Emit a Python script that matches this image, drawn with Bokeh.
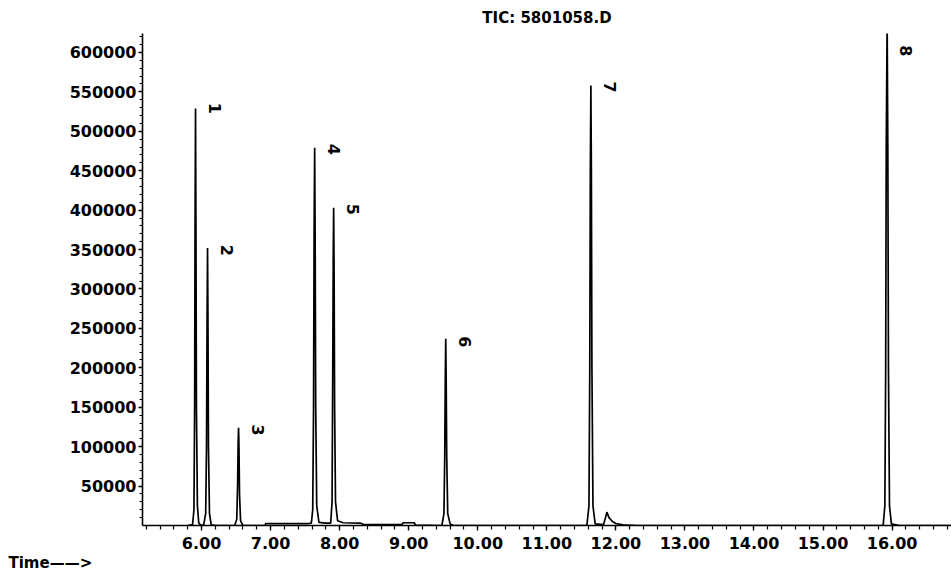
from bokeh.plotting import figure
from bokeh.models import FixedTicker, NumeralTickFormatter, Range1d, Title, ColumnDataSource
from bokeh.core.properties import value
from bokeh.embed import file_html
from bokeh.resources import INLINE
import math

# ---------------- data ----------------
title_text = "TIC: 5801058.D"
x_label_text = "Time\u2014\u2014>"

x_tick_values = [6, 7, 8, 9, 10, 11, 12, 13, 14, 15, 16]
y_tick_values = [50000, 100000, 150000, 200000, 250000, 300000,
                 350000, 400000, 450000, 500000, 550000, 600000]

# total ion chromatogram trace (retention time in minutes, abundance)
trace_time = [
    5.80, 5.87, 5.89, 5.900, 5.906, 5.913, 5.919, 5.926, 5.94, 5.96, 5.99,
    6.03, 6.060, 6.072, 6.080, 6.087, 6.093, 6.100, 6.115, 6.14, 6.20,
    6.48, 6.51, 6.522, 6.530, 6.536, 6.542, 6.550, 6.565, 6.60,
    6.92, 6.93, 7.55,
    7.59, 7.610, 7.622, 7.630, 7.638, 7.645, 7.653, 7.668, 7.70, 7.80,
    7.87, 7.890, 7.900, 7.907, 7.913, 7.919, 7.927, 7.94, 7.97, 8.05, 8.30, 8.34,
    8.90, 8.92, 9.08, 9.10,
    9.48, 9.510, 9.522, 9.530, 9.536, 9.542, 9.550, 9.565, 9.60, 9.65,
    11.58, 11.610, 11.622, 11.630, 11.638, 11.645, 11.653, 11.668, 11.70,
    11.82, 11.85, 11.87, 11.90, 11.95, 12.00, 12.10, 12.30,
    15.87, 15.895, 15.907, 15.915, 15.928, 15.938, 15.947, 15.962, 15.99, 16.10,
    16.85,
]
trace_signal = [
    0, 1000, 20000, 150000, 380000, 529000, 380000, 150000, 25000, 3000, 500,
    500, 15000, 100000, 260000, 352000, 260000, 100000, 15000, 1000, 0,
    0, 8000, 50000, 105000, 124000, 100000, 40000, 6000, 0,
    0, 2500, 2500,
    3000, 20000, 150000, 370000, 479000, 370000, 150000, 25000, 4000, 3000,
    3000, 30000, 200000, 340000, 403000, 330000, 150000, 30000, 6000, 3500, 3000, 1500,
    1000, 3500, 3500, 500,
    0, 15000, 90000, 190000, 237000, 190000, 90000, 15000, 2000, 0,
    0, 25000, 200000, 450000, 558000, 450000, 200000, 25000, 2000,
    1000, 10000, 17000, 10000, 5000, 2500, 800, 0,
    0, 25000, 200000, 480000, 640000, 480000, 200000, 25000, 2000, 0,
    0,
]

# peak number labels
peak_names = ["1", "2", "3", "4", "5", "6", "7", "8"]
peak_label_time = [5.913, 6.087, 6.536, 7.638, 7.913, 9.536, 11.638, 15.928]
peak_label_height = [529000, 349000, 121000, 477000, 401000, 233000, 556000, 602000]

# ---------------- figure ----------------
FONT = "DejaVu Sans"

p = figure(width=951, height=576, output_backend="svg", toolbar_location=None,
           x_range=Range1d(5.145, 16.86), y_range=Range1d(0, 624000),
           min_border_left=142, min_border_right=0, min_border_top=32,
           min_border_bottom=51)
p.background_fill_color = "white"
p.border_fill_color = "white"
p.outline_line_color = None
p.grid.visible = False

p.title.text = title_text
p.title.align = "center"
p.title.text_font = FONT
p.title.text_font_size = "15px"
p.title.text_font_style = "bold"
p.title.text_color = "black"
p.title.standoff = 13

p.line(trace_time, trace_signal, line_color="black", line_width=1.7)

src = ColumnDataSource(dict(x=peak_label_time, y=peak_label_height, t=peak_names))
p.text(x="x", y="y", text="t", source=src, angle=-math.pi / 2,
       x_offset=19, text_align="center", text_baseline="middle",
       text_font=value(FONT), text_font_size="16px", text_font_style="bold",
       text_color="black")

# axes
x_minor = [round(5.2 + 0.2 * i, 2) for i in range(59)]
y_minor = [10000 * i for i in range(1, 63)]
p.xaxis.ticker = FixedTicker(ticks=x_tick_values, minor_ticks=x_minor)
p.yaxis.ticker = FixedTicker(ticks=y_tick_values, minor_ticks=y_minor)
p.xaxis.formatter = NumeralTickFormatter(format="0.00")
p.yaxis.formatter = NumeralTickFormatter(format="0")

for ax in (p.xaxis, p.yaxis):
    ax.axis_line_color = "black"
    ax.axis_line_width = 1.6
    ax.major_tick_line_color = "black"
    ax.minor_tick_line_color = "black"
    ax.major_tick_line_width = 1.3
    ax.minor_tick_line_width = 1.2
    ax.major_tick_in = 0
    ax.minor_tick_in = 0
    ax.major_label_text_font = FONT
    ax.major_label_text_font_style = "bold"
    ax.major_label_text_color = "black"

p.xaxis.major_tick_out = 5
p.xaxis.minor_tick_out = 4
p.xaxis.major_label_standoff = 6
p.xaxis.major_label_text_font_size = "16px"

p.yaxis.major_tick_out = 4
p.yaxis.minor_tick_out = 3
p.yaxis.major_label_standoff = 2
p.yaxis.major_label_text_font_size = "16px"

# "Time——>" caption below the axis, at the far left of the page
p.add_layout(Title(text=x_label_text, align="left", offset=-134, standoff=0,
                   text_font=FONT, text_font_size="15px", text_font_style="bold",
                   text_color="black"), "below")

open("out.html", "w").write(file_html(p, INLINE))
